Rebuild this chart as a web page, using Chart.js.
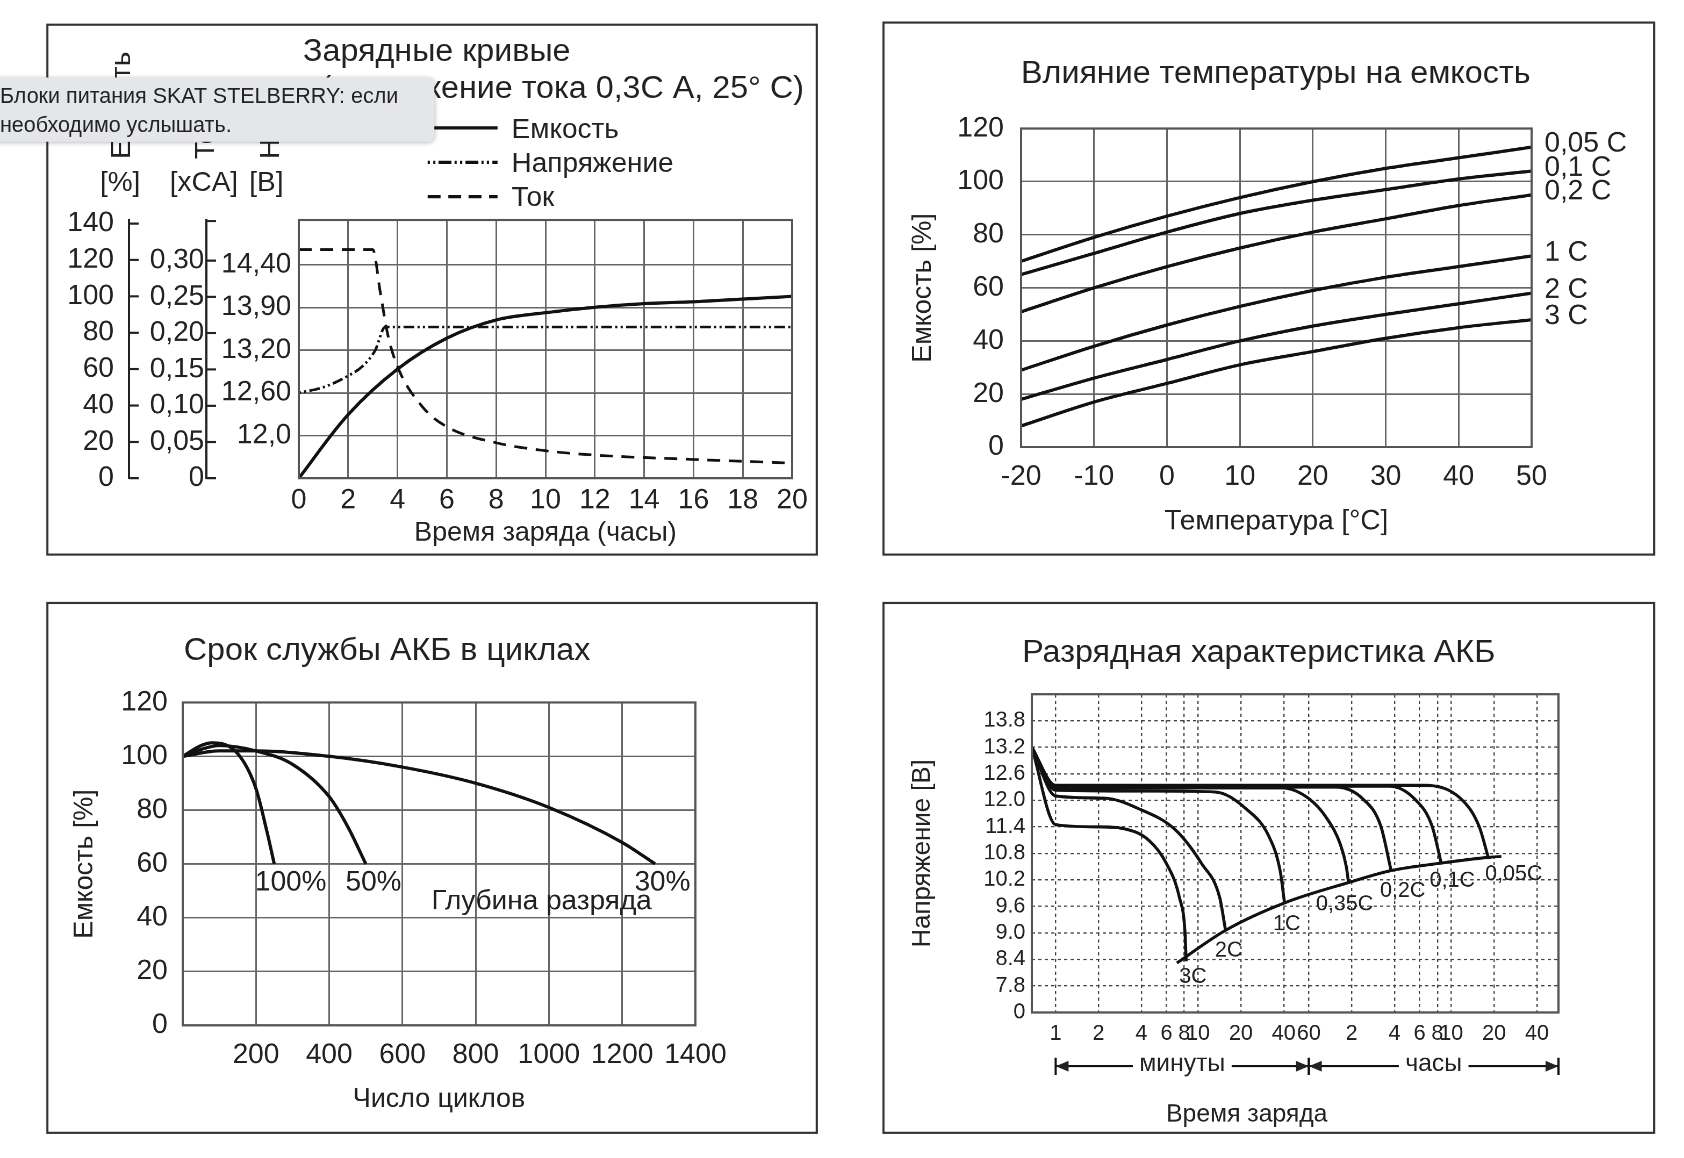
<!DOCTYPE html>
<html><head><meta charset="utf-8">
<script src="https://cdn.jsdelivr.net/npm/chart.js@4"></script>
<style>
html,body{margin:0;background:#fff;overflow:hidden;width:1684px;height:1158px;font-family:"Liberation Sans",Arial,sans-serif;color:#222}
#root{position:relative;width:1560px;height:1072px;transform:scale(1.0748);transform-origin:0 0}
.panel{position:absolute;border:2px solid #333;box-sizing:border-box}
.t{position:absolute;white-space:nowrap;font-size:30px;color:#222}
.l{position:absolute;white-space:nowrap;font-size:26px;color:#222}
.c{position:absolute}
.rot{position:absolute;transform:rotate(-90deg);transform-origin:0 0;white-space:nowrap;font-size:26px}
#tip{position:absolute;left:-6px;top:72px;width:410px;height:60px;background:#e4e6e9;border-radius:6px;box-shadow:0 1px 4px rgba(0,0,0,.25);font-size:20px;line-height:27px;padding:4px 0 0 6px;box-sizing:border-box;color:#222}
</style></head><body>
<div id="root">
<div class="panel" style="left:43px;top:22px;width:718px;height:495px"></div>
<div class="panel" style="left:821px;top:20px;width:719px;height:497px"></div>
<div class="panel" style="left:43px;top:560px;width:718px;height:495px"></div>
<div class="panel" style="left:821px;top:560px;width:719px;height:495px"></div>

<div class="t" style="left:282px;top:30px">Зарядные кривые</div>
<div class="t" style="right:812px;top:64px">(напряжение тока 0,3С А, 25° С)</div>
<div class="rot" style="left:97px;top:148px">Емкость</div>
<div class="rot" style="left:175px;top:148px">Ток</div>
<div class="rot" style="left:236px;top:148px">Напр.</div>
<div class="l" style="left:93px;top:154px">[%]</div>
<div class="l" style="left:158px;top:154px">[xCA]</div>
<div class="l" style="left:232px;top:154px">[B]</div>
<svg style="position:absolute;left:395px;top:105px" width="75" height="90">
<line x1="3" y1="14" x2="68" y2="14" stroke="#111" stroke-width="3"/>
<line x1="3" y1="46" x2="68" y2="46" stroke="#111" stroke-width="3" stroke-dasharray="2,3,2,3,12,3"/>
<line x1="3" y1="78" x2="68" y2="78" stroke="#111" stroke-width="3" stroke-dasharray="12,7"/>
</svg>
<div class="l" style="left:476px;top:104px">Емкость</div>
<div class="l" style="left:476px;top:136px">Напряжение</div>
<div class="l" style="left:476px;top:168px">Ток</div>

<div class="t" style="left:950px;top:50px">Влияние температуры на емкость</div>
<div class="t" style="left:171px;top:587px">Срок службы АКБ в циклах</div>
<div class="t" style="left:951px;top:589px">Разрядная характеристика АКБ</div>

<div class="c" style="left:60px;top:175px;width:700px;height:340px"><canvas id="c1"></canvas></div>
<div class="c" style="left:840px;top:88px;width:690px;height:417px"><canvas id="c2"></canvas></div>
<div class="c" style="left:60px;top:624px;width:690px;height:418px"><canvas id="c3"></canvas></div>
<div class="c" style="left:840px;top:626px;width:690px;height:424px"><canvas id="c4"></canvas></div>

<div id="tip">Блоки питания SKAT STELBERRY: если<br>необходимо услышать.</div>
</div>
<script>
// ---------- Chart 1 data ----------
const CHG_T = [0,2,4,6,8,10,12,14,16,18,20];
const CHG_CAP = [0,35,60,77,87,91,94,96,97,98.5,100];
const VOLT_T = [0,1,2,2.6,3.1,3.5,5,10,15,20];
const VOLT_V = [12.60,12.68,12.84,12.98,13.2,13.58,13.58,13.58,13.58,13.58];
const CUR_T = [0,1,2,3,3.3,3.6,4,5,6,8,10,12,16,20];
const CUR_I = [0.315,0.315,0.315,0.315,0.257,0.199,0.154,0.099,0.071,0.049,0.038,0.032,0.026,0.021];
const CAP_TICKS = [0,20,40,60,80,100,120,140];
const CUR_TICKS = [0,0.05,0.10,0.15,0.20,0.25,0.30];
const V_TICK_VALUES = [12.0,12.6,13.2,13.9,14.4];
const V_TICK_LABELS = ['12,0','12,60','13,20','13,90','14,40'];
// ---------- Chart 2 data ----------
const TEMP = [-20,-10,0,10,20,30,40,50];
const TEMP_NAMES = ['0,05 C','0,1 C','0,2 C','1 C','2 C','3 C'];
const TEMP_SERIES = [
 [70,79,87,94,100,105,109,113],
 [65,73,81,88,93,97,101,104],
 [51,60,68,75,81,86,91,95],
 [29,38,46,53,59,64,68,72],
 [18,26,33,40,45.6,50,54,58],
 [8,17,24,31,36,41,45,48]];
// ---------- Chart 3 data ----------
const CYC_100 = [[0,100],[50,104],[80,105],[150,101],[200,88],[230,72],[250,60]];
const CYC_50 = [[0,100],[60,103],[100,104],[200,102],[300,97],[400,85],[450,74],[500,60]];
const CYC_30 = [[0,100],[100,102],[200,102],[400,100],[600,96],[800,90],[1000,81],[1200,68],[1290,60]];
const CYC_LABELS = [['100%',295,53],['50%',521,53],['30%',1310,53],['Глубина разряда',980,46]];
// ---------- Chart 4 data ----------
const DIS_NAMES = ['3C','2C','1C','0,35C','0,2C','0,1C','0,05C'];
const DIS_SERIES = [
 [[0.68,13.2],[1,11.45],[2,11.4],[3,11.36],[4.5,11.1],[6,10.57],[7.4,9.8],[8.1,9.0],[8.25,8.36]],
 [[0.68,13.2],[1,12.1],[2.2,12.05],[3.9,11.8],[6.9,11.34],[10.6,10.57],[14.2,9.8],[15.6,9.06]],
 [[0.68,13.2],[1,12.23],[5,12.21],[13.2,12.19],[21.9,11.8],[31.4,11.19],[37.7,10.41],[40.5,9.68]],
 [[0.68,13.2],[1,12.28],[39,12.28],[60,12.04],[80,11.6],[100,11.0],[110,10.5],[114,10.14]],
 [[0.68,13.2],[1,12.3],[93,12.3],[143,12.04],[192,11.42],[227,10.41]],
 [[0.68,13.2],[1,12.32],[220,12.32],[330,12.04],[440,11.42],[510,10.58]],
 [[0.68,13.2],[1,12.34],[390,12.34],[700,12.04],[940,11.42],[1090,10.72]]];
const DIS_CUTOFF = [[7.1,8.32],[15.6,9.06],[40.5,9.68],[114,10.14],[227,10.41],[510,10.58],[1090,10.71],[1350,10.73]];
const DIS_LABEL_POS = [[9.2,8.0],[16.4,8.6],[42,9.2],[107,9.64],[274,9.95],[611,10.18],[1650,10.33]];
const X4_TICKS = [1,2,4,6,8,10,20,40,60,120,240,360,480,600,1200,2400];
const X4_LABELS = ['1','2','4','6','8','10','20','40','60','2','4','6','8','10','20','40'];
const Y4_TICKS = [7.2,7.8,8.4,9.0,9.6,10.2,10.8,11.4,12.0,12.6,13.2,13.8];

// ---------- helpers ----------
const FONT = "'Liberation Sans', Arial, sans-serif";
const INK = '#111', GRID = '#666', TXT = '#222';
Chart.defaults.font.family = FONT;
Chart.defaults.color = TXT;
Chart.defaults.animation = false;
Chart.defaults.devicePixelRatio = 2;
function vToIdx(v){
  for(let i=0;i<V_TICK_VALUES.length-1;i++){
    if(v<=V_TICK_VALUES[i+1]) return 1+i+(v-V_TICK_VALUES[i])/(V_TICK_VALUES[i+1]-V_TICK_VALUES[i]);
  }
  return V_TICK_VALUES.length;
}
const pts=(xs,ys)=>xs.map((x,i)=>({x,y:ys[i]}));
const pairs=a=>a.map(p=>({x:p[0],y:p[1]}));
const frame={id:'frame',afterDatasetsDraw(ch){const a=ch.chartArea,c=ch.ctx;c.save();c.strokeStyle='#555';c.lineWidth=2;c.strokeRect(a.left,a.top,a.right-a.left,a.bottom-a.top);c.restore();}};
const line=(data,extra)=>Object.assign({data,borderColor:INK,borderWidth:3,pointRadius:0,showLine:true,fill:false,cubicInterpolationMode:'monotone'},extra||{});
const comma=v=>v===0?'0':v.toFixed(2).replace('.',',');
const fixW=w=>s=>{s.width=w;};
const fixH=h=>s=>{s.height=h;};
const TK=(size,pad,extra)=>Object.assign({font:{size},color:TXT,padding:pad,autoSkip:false,maxRotation:0},extra||{});

// ---------- Chart 1 ----------
const inTicks={id:'inTicks',afterDraw(ch){const c=ch.ctx;c.save();c.strokeStyle='#222';c.lineWidth=2;
  ['yC','yI'].forEach(id=>{const s=ch.scales[id];const ys=s.ticks.map(t=>s.getPixelForValue(t.value));if(id==='yI')ys.push(s.top+1);
   ys.forEach(y=>{c.beginPath();c.moveTo(s.right,y);c.lineTo(s.right+9,y);c.stroke();});});c.restore();}};
new Chart(document.getElementById('c1'),{type:'scatter',
 data:{datasets:[
  line(pts(CHG_T,CHG_CAP),{yAxisID:'yC',cubicInterpolationMode:'default',tension:0.35}),
  line(VOLT_T.map((t,i)=>({x:t,y:vToIdx(VOLT_V[i])})),{yAxisID:'yV',borderDash:[2,3,2,3,10,3],borderWidth:2.5}),
  line(pts(CUR_T,CUR_I),{yAxisID:'yI',borderDash:[12,8],borderWidth:2.5})]},
 options:{responsive:true,maintainAspectRatio:false,layout:{padding:{top:0,right:23}},
  plugins:{legend:{display:false},tooltip:{enabled:false}},
  scales:{
   x:{type:'linear',min:0,max:20,ticks:TK(26,5,{stepSize:2}),grid:{color:GRID,lineWidth:1.5,drawTicks:false},border:{display:false},
      title:{display:true,text:'Время заряда (часы)',font:{size:25},padding:{top:0}},afterFit:fixH(70)},
   yC:{position:'left',weight:3,min:0,max:142,afterBuildTicks:s=>{s.ticks=CAP_TICKS.map(v=>({value:v}));},
      ticks:TK(26,14),grid:{drawOnChartArea:false,drawTicks:false},border:{display:true,color:'#222',width:2},afterFit:fixW(60)},
   yI:{position:'left',weight:2,min:0,max:0.356,afterBuildTicks:s=>{s.ticks=CUR_TICKS.map(v=>({value:v}));},
      ticks:TK(26,2,{callback:v=>comma(v)}),grid:{drawOnChartArea:false,drawTicks:false},border:{display:true,color:'#222',width:2},afterFit:fixW(72)},
   yV:{position:'left',weight:1,min:0,max:6.05,afterBuildTicks:s=>{s.ticks=V_TICK_LABELS.map((l,i)=>({value:i+1}));},
      ticks:TK(26,7,{callback:(v,i)=>V_TICK_LABELS[i]}),grid:{color:GRID,lineWidth:1.5,drawTicks:false},border:{display:false},afterFit:fixW(86)}
  }},plugins:[frame,inTicks]});

// ---------- Chart 2 ----------
const rightLabels={id:'rightLabels',afterDraw(ch){const c=ch.ctx;c.save();c.font='26px '+FONT;c.fillStyle=TXT;c.textBaseline='middle';
  ch.data.datasets.forEach((d,i)=>{const m=ch.getDatasetMeta(i);const p=m.data[m.data.length-1];c.fillText(TEMP_NAMES[i],ch.chartArea.right+12,p.y-3);});c.restore();}};
new Chart(document.getElementById('c2'),{type:'scatter',
 data:{datasets:TEMP_SERIES.map(s=>line(pts(TEMP,s),{tension:0.4}))},
 options:{responsive:true,maintainAspectRatio:false,layout:{padding:{top:16,right:105}},
  plugins:{legend:{display:false},tooltip:{enabled:false}},
  scales:{
   x:{type:'linear',min:-20,max:50,ticks:TK(26,12,{stepSize:10}),grid:{color:GRID,lineWidth:1.5,drawTicks:false},border:{display:false},
      title:{display:true,text:'Температура [°C]',font:{size:26},padding:{top:8}},afterFit:fixH(89)},
   y:{min:0,max:120,ticks:TK(26,16,{stepSize:20}),grid:{color:GRID,lineWidth:1.5,drawTicks:false},border:{display:false},
      title:{display:true,text:'Емкость [%]',font:{size:25},padding:{bottom:6}},afterFit:fixW(110)}
  }},plugins:[frame,rightLabels]});

// ---------- Chart 3 ----------
const cycLabels={id:'cycLabels',afterDraw(ch){const c=ch.ctx;c.save();c.font='26px '+FONT;c.fillStyle=TXT;c.textAlign='center';c.textBaseline='middle';
  CYC_LABELS.forEach(l=>c.fillText(l[0],ch.scales.x.getPixelForValue(l[1]),ch.scales.y.getPixelForValue(l[2])));c.restore();}};
new Chart(document.getElementById('c3'),{type:'scatter',
 data:{datasets:[line(pairs(CYC_100),{tension:0.4}),line(pairs(CYC_50),{tension:0.4}),line(pairs(CYC_30),{tension:0.4})]},
 options:{responsive:true,maintainAspectRatio:false,layout:{padding:{top:23,right:103}},
  plugins:{legend:{display:false},tooltip:{enabled:false}},
  scales:{
   x:{type:'linear',min:0,max:1400,ticks:TK(26,12,{stepSize:200,callback:v=>v===0?'':v}),grid:{color:GRID,lineWidth:1.5,drawTicks:false},border:{display:false},
      title:{display:true,text:'Число циклов',font:{size:25},padding:{top:6}},afterFit:fixH(88)},
   y:{min:0,max:120,ticks:TK(26,14,{stepSize:20}),grid:{color:GRID,lineWidth:1.5,drawTicks:false},border:{display:false},
      title:{display:true,text:'Емкость [%]',font:{size:25},padding:{bottom:6}},afterFit:fixW(110)}
  }},plugins:[frame,cycLabels]});

// ---------- Chart 4 ----------
const disLabels={id:'disLabels',afterDraw(ch){const c=ch.ctx,x=ch.scales.x,y=ch.scales.y;c.save();c.font='20px '+FONT;c.fillStyle=TXT;c.textAlign='center';c.textBaseline='middle';
  DIS_LABEL_POS.forEach((p,i)=>c.fillText(DIS_NAMES[i],x.getPixelForValue(p[0]),y.getPixelForValue(p[1])));
  const yy=ch.chartArea.bottom+50,x1=x.getPixelForValue(1),x2=x.getPixelForValue(60),x3=ch.chartArea.right;
  c.font='23px '+FONT;c.strokeStyle='#111';c.lineWidth=2;
  function seg(a,b,label){const m=(a+b)/2,w=c.measureText(label).width/2+6;
    c.beginPath();c.moveTo(a,yy);c.lineTo(m-w,yy);c.moveTo(m+w,yy);c.lineTo(b,yy);
    c.moveTo(a,yy-8);c.lineTo(a,yy+8);c.moveTo(b,yy-8);c.lineTo(b,yy+8);c.stroke();
    [[a,1],[b,-1]].forEach(([px,d])=>{c.beginPath();c.moveTo(px,yy);c.lineTo(px+d*12,yy-5);c.lineTo(px+d*12,yy+5);c.closePath();c.fill();});
    c.fillText(label,m,yy-2);}
  seg(x1,x2,'минуты');seg(x2,x3,'часы');
  c.fillText('Время заряда',(ch.width)/2-25,ch.chartArea.bottom+95);c.restore();}};
const ds4=DIS_SERIES.map(s=>line(pairs(s),{borderWidth:2.8,tension:0.4}));
ds4.push(line(pairs(DIS_CUTOFF),{borderWidth:2.8,tension:0.4}));
new Chart(document.getElementById('c4'),{type:'scatter',
 data:{datasets:ds4},
 options:{responsive:true,maintainAspectRatio:false,layout:{padding:{top:20,right:80}},
  plugins:{legend:{display:false},tooltip:{enabled:false}},
  scales:{
   x:{type:'logarithmic',min:0.68,max:3400,afterBuildTicks:s=>{s.ticks=X4_TICKS.map(v=>({value:v}));},
      ticks:TK(20,8,{callback:(v,i)=>X4_LABELS[i]}),grid:{color:'#444',lineWidth:1.2,drawTicks:false},border:{display:false,dash:[3,3]},
      afterFit:fixH(108)},
   y:{min:7.2,max:14.4,afterBuildTicks:s=>{s.ticks=Y4_TICKS.map(v=>({value:v}));},
      ticks:TK(20,6,{callback:v=>v<7.5?'0':v.toFixed(1)}),grid:{color:'#444',lineWidth:1.2,drawTicks:false},border:{display:false,dash:[3,3]},
      title:{display:true,text:'Напряжение [В]',font:{size:24},padding:{bottom:4}},afterFit:fixW(120)}
  }},plugins:[frame,disLabels]});
</script>
</body></html>
